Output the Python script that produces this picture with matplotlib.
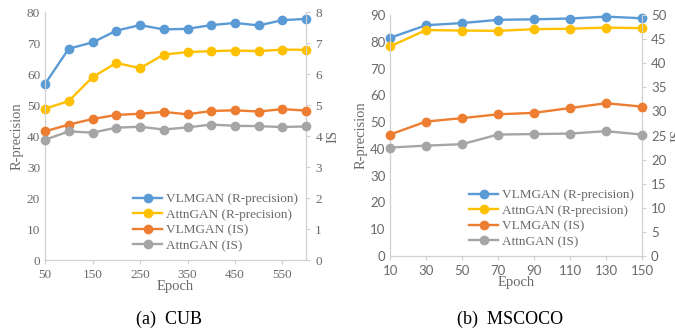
import matplotlib.pyplot as plt

# CUB
cub_epochs = [50, 100, 150, 200, 250, 300, 350, 400, 450, 500, 550, 600]
cub_vlm_r = [56.8, 68.2, 70.2, 74.0, 75.8, 74.4, 74.6, 75.8, 76.5, 75.7, 77.4, 77.8]
cub_attn_r = [48.8, 51.3, 59.0, 63.6, 61.9, 66.3, 67.1, 67.4, 67.6, 67.4, 67.9, 67.8]
cub_vlm_is = [4.15, 4.37, 4.55, 4.68, 4.72, 4.78, 4.70, 4.81, 4.83, 4.79, 4.87, 4.82]
cub_attn_is = [3.88, 4.15, 4.11, 4.27, 4.30, 4.21, 4.28, 4.37, 4.33, 4.32, 4.29, 4.31]
cub_xticks = [50, 150, 250, 350, 450, 550]

# MSCOCO
coco_epochs = [10, 30, 50, 70, 90, 110, 130, 150]
coco_vlm_r = [81.5, 86.2, 87.0, 88.2, 88.4, 88.7, 89.4, 88.8]
coco_attn_r = [78.3, 84.4, 84.2, 84.1, 84.7, 84.9, 85.3, 85.1]
coco_vlm_is = [25.2, 27.9, 28.6, 29.4, 29.7, 30.7, 31.7, 31.0]
coco_attn_is = [22.5, 22.9, 23.2, 25.2, 25.3, 25.4, 25.9, 25.2]

labels = ["VLMGAN (R-precision)", "AttnGAN (R-precision)", "VLMGAN (IS)", "AttnGAN (IS)"]
colors = ["#5B9BD5", "#FFC000", "#ED7D31", "#A5A5A5"]

SERIF = "Liberation Serif"
GRAY = "#6A6A6A"
SPINE = "#D0D0D0"


def draw_panel(rect, epochs, vlm_r, attn_r, vlm_is, attn_is,
               ylim_l, yticks_l, ylim_r, yticks_r, xticks, tick_font, caption, cap_x):
    ax = fig.add_axes(rect)
    ax2 = ax.twinx()

    kw = dict(marker="o", lw=1.7, ms=6, clip_on=False, zorder=3)
    lines = []
    lines += ax.plot(epochs, vlm_r, color=colors[0], label=labels[0], **kw)
    lines += ax.plot(epochs, attn_r, color=colors[1], label=labels[1], **kw)
    lines += ax2.plot(epochs, vlm_is, color=colors[2], label=labels[2], **kw)
    lines += ax2.plot(epochs, attn_is, color=colors[3], label=labels[3], **kw)

    ax.set_xlim(epochs[0], epochs[-1])
    ax.set_ylim(*ylim_l)
    ax.set_yticks(yticks_l)
    ax2.set_ylim(*ylim_r)
    ax2.set_yticks(yticks_r)
    ax.set_xticks(xticks)

    for a in (ax, ax2):
        for s in a.spines.values():
            s.set_color(SPINE)
        a.spines["top"].set_visible(False)
        a.tick_params(colors=GRAY, length=3, width=0.8, labelsize=9.5, color=SPINE)
        for t in a.get_xticklabels() + a.get_yticklabels():
            t.set_fontfamily(tick_font)
    ax.tick_params(axis="y", length=0)

    ax.set_xlabel("Epoch", fontfamily=SERIF, fontsize=10.5, color=GRAY, labelpad=-1)
    ax.set_ylabel("R-precision", fontfamily=SERIF, fontsize=10.5, color=GRAY, labelpad=2)
    ax2.set_ylabel("IS", fontfamily=SERIF, fontsize=10.5, color=GRAY, labelpad=3)

    leg = ax2.legend(lines, labels, loc="lower right", frameon=False,
                     prop={"family": SERIF, "size": 9.5}, handlelength=2.2,
                     handletextpad=0.3, labelspacing=0.25, borderaxespad=0.2)
    for t in leg.get_texts():
        t.set_color(GRAY)

    fig.text(cap_x, 0.008, caption, ha="center", va="bottom", fontfamily=SERIF, fontsize=13)


fig = plt.figure(figsize=(6.75, 3.31), dpi=100)

draw_panel([0.0667, 0.2145, 0.387, 0.749], cub_epochs, cub_vlm_r, cub_attn_r,
           cub_vlm_is, cub_attn_is, (0, 80), range(0, 81, 10), (0, 8), range(0, 9),
           cub_xticks, SERIF, "(a)  CUB", 0.25)

draw_panel([0.578, 0.2266, 0.373, 0.728], coco_epochs, coco_vlm_r, coco_attn_r,
           coco_vlm_is, coco_attn_is, (0, 90), range(0, 91, 10), (0, 50), range(0, 51, 5),
           coco_epochs, "Lato", "(b)  MSCOCO", 0.755)

fig.savefig("out.png", dpi=100)
plt.close(fig)
